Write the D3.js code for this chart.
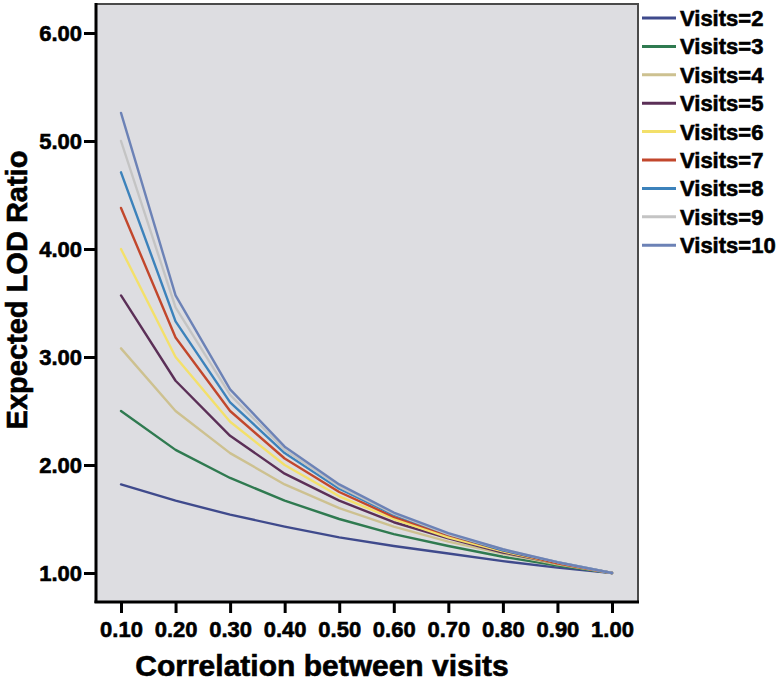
<!DOCTYPE html>
<meta charset="utf-8">
<head>
  <script src="https://d3js.org/d3.v7.min.js"></script>
  <style>
    body { margin: 0; background: #fff; }
    text { font-family: "Liberation Sans", Arial, sans-serif; font-weight: bold; fill: #000; stroke: #000; stroke-width: 0.6px; }
  </style>
</head>
<body>
  <svg id="chart" width="779" height="683"></svg>
  <script>
    // correlation between visits (x)
    var correlations = [0.1, 0.2, 0.3, 0.4, 0.5, 0.6, 0.7, 0.8, 0.9, 1.0];
    var yTicks = [1, 2, 3, 4, 5, 6];
    var seriesNames = ["Visits=2", "Visits=3", "Visits=4", "Visits=5", "Visits=6",
                       "Visits=7", "Visits=8", "Visits=9", "Visits=10"];
    var seriesColors = ["#3f4a8c", "#2f7a50", "#cdc190", "#5b2f57", "#f3e06a",
                        "#c2472c", "#3c82bb", "#c4c4c4", "#6c82b6"];

    // expected LOD ratio
    var visits2  = [1.82, 1.67, 1.54, 1.43, 1.33, 1.25, 1.18, 1.11, 1.05, 1.00];
    var visits3  = [2.50, 2.14, 1.88, 1.67, 1.50, 1.36, 1.25, 1.15, 1.07, 1.00];
    var visits4  = [3.08, 2.50, 2.11, 1.82, 1.60, 1.43, 1.29, 1.18, 1.08, 1.00];
    var visits5  = [3.57, 2.78, 2.27, 1.92, 1.67, 1.47, 1.32, 1.19, 1.09, 1.00];
    var visits6  = [4.00, 3.00, 2.40, 2.00, 1.71, 1.50, 1.33, 1.20, 1.09, 1.00];
    var visits7  = [4.38, 3.18, 2.50, 2.06, 1.75, 1.52, 1.35, 1.21, 1.09, 1.00];
    var visits8  = [4.71, 3.33, 2.58, 2.11, 1.78, 1.54, 1.36, 1.21, 1.10, 1.00];
    var visits9  = [5.00, 3.46, 2.65, 2.14, 1.80, 1.55, 1.36, 1.22, 1.10, 1.00];
    var visits10 = [5.26, 3.57, 2.70, 2.17, 1.82, 1.56, 1.37, 1.22, 1.10, 1.00];

    var seriesValues = [visits2, visits3, visits4, visits5, visits6,
                        visits7, visits8, visits9, visits10];

    var svg = d3.select("#chart");

    var plotLeft = 96, plotRight = 638, plotTop = 4, plotBottom = 602;

    var x = d3.scaleLinear().domain([0.1, 1.0]).range([121, 612]);
    var y = d3.scaleLinear().domain([1, 6]).range([573, 33]);

    // plot background + frame
    svg.append("rect")
      .attr("x", plotLeft).attr("y", plotTop)
      .attr("width", plotRight - plotLeft).attr("height", plotBottom - plotTop)
      .attr("fill", "#dddde1")
      .attr("stroke", "#4a4a4a")
      .attr("stroke-width", 2);

    // lines
    var line = d3.line()
      .x(function(d, i) { return x(correlations[i]); })
      .y(function(d) { return y(d); });

    svg.append("g")
      .selectAll("path")
      .data(seriesValues)
      .enter()
      .append("path")
        .attr("d", line)
        .attr("fill", "none")
        .attr("stroke", function(d, i) { return seriesColors[i]; })
        .attr("stroke-width", 2.4)
        .attr("stroke-linejoin", "round")
        .attr("stroke-linecap", "round");

    // y axis
    var yAxis = svg.append("g")
      .attr("transform", "translate(" + plotLeft + ",0)")
      .call(d3.axisLeft(y).tickValues(yTicks).tickFormat(d3.format(".2f")).tickSize(12).tickPadding(2));
    yAxis.select(".domain").attr("d", "M0," + (plotTop - 1) + "V" + (plotBottom + 1)).attr("stroke", "#000").attr("stroke-width", 3);
    yAxis.selectAll(".tick line").attr("stroke", "#000").attr("stroke-width", 3);
    yAxis.selectAll(".tick text").style("font-size", "22px").attr("dy", "0.36em");

    // x axis
    var xAxis = svg.append("g")
      .attr("transform", "translate(0," + plotBottom + ")")
      .call(d3.axisBottom(x).tickValues(correlations).tickFormat(d3.format(".2f")).tickSize(11).tickPadding(8));
    xAxis.select(".domain").attr("d", "M" + (plotLeft - 1.5) + ",0H" + (plotRight + 1)).attr("stroke", "#000").attr("stroke-width", 3);
    xAxis.selectAll(".tick line").attr("stroke", "#000").attr("stroke-width", 3);
    xAxis.selectAll(".tick text").style("font-size", "22px");

    // axis titles
    svg.append("text")
      .attr("x", 322)
      .attr("y", 676)
      .attr("text-anchor", "middle")
      .style("font-size", "30px")
      .text("Correlation between visits");

    svg.append("text")
      .attr("transform", "translate(27,290) rotate(-90)")
      .attr("text-anchor", "middle")
      .style("font-size", "29px")
      .text("Expected LOD Ratio");

    // legend
    var legend = svg.selectAll(".legend")
      .data(seriesNames)
      .enter().append("g")
      .attr("class", "legend")
      .attr("transform", function(d, i) { return "translate(642," + (18 + i * 28.4) + ")"; });

    legend.append("line")
      .attr("x1", 0).attr("x2", 34)
      .attr("stroke", function(d, i) { return seriesColors[i]; })
      .attr("stroke-width", 3);

    legend.append("text")
      .attr("x", 38)
      .attr("dy", "0.36em")
      .style("font-size", "22px")
      .text(function(d) { return d; });
  </script>
</body>
